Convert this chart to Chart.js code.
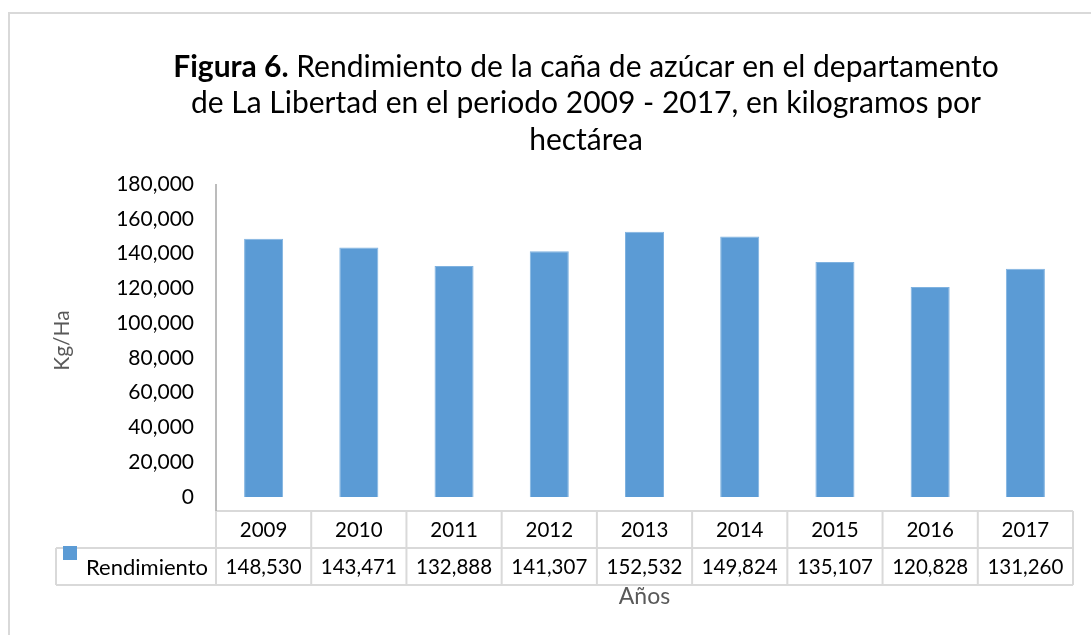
<!DOCTYPE html>
<html lang="es">
<head>
    <meta charset="UTF-8">
    <title>Figura 6 - Rendimiento de la caña de azúcar</title>
    <script src="https://cdn.jsdelivr.net/npm/chart.js"></script>
    <style>
        body { margin: 0; background: #fff; }
        canvas { display: block; }
    </style>
</head>
<body>
    <canvas id="chart" width="1091" height="635"></canvas>

    <script>
        // --- Data ---
        const years = ['2009', '2010', '2011', '2012', '2013', '2014', '2015', '2016', '2017'];
        const rendimiento = [148530, 143471, 132888, 141307, 152532, 149824, 135107, 120828, 131260];
        const seriesName = 'Rendimiento';
        const titleBold = 'Figura 6.';
        const titleLines = [
            ' Rendimiento de la caña de azúcar en el departamento',
            'de La Libertad en el periodo 2009 - 2017, en kilogramos por',
            'hectárea'
        ];

        const FONT = 'Lato, "Open Sans", sans-serif';
        const fmt = v => v.toLocaleString('en-US');

        // frame, title and data table below the x axis
        const tablePlugin = {
            id: 'tablePlugin',
            beforeDraw(chart) {
                const ctx = chart.ctx;
                ctx.save();
                ctx.strokeStyle = '#d9d9d9';
                ctx.lineWidth = 2;
                ctx.strokeRect(9, 13, 1200, 700);
                ctx.restore();
            },
            afterDraw(chart) {
                const ctx = chart.ctx;
                const x = chart.scales.x;
                const area = chart.chartArea;
                ctx.save();

                // title (first line mixes bold and regular)
                const cx = 586;
                const lineY = [67, 103, 140];
                ctx.fillStyle = '#000';
                ctx.textBaseline = 'middle';
                ctx.font = 'bold 30px ' + FONT;
                const wb = ctx.measureText(titleBold).width;
                ctx.font = '30px ' + FONT;
                const w1 = ctx.measureText(titleLines[0]).width;
                let sx = cx - (wb + w1) / 2;
                ctx.textAlign = 'left';
                ctx.font = 'bold 30px ' + FONT;
                ctx.fillText(titleBold, sx, lineY[0]);
                ctx.font = '30px ' + FONT;
                ctx.fillText(titleLines[0], sx + wb, lineY[0]);
                ctx.textAlign = 'center';
                ctx.fillText(titleLines[1], cx, lineY[1]);
                ctx.fillText(titleLines[2], cx, lineY[2]);

                // table geometry
                const colW = (area.right - area.left) / years.length;
                const top = 511, mid = 548, bot = 585, legLeft = 56;

                ctx.strokeStyle = '#d9d9d9';
                ctx.lineWidth = 2;
                ctx.beginPath();
                ctx.moveTo(area.left, top); ctx.lineTo(area.right, top);
                ctx.moveTo(legLeft, mid); ctx.lineTo(area.right, mid);
                ctx.moveTo(legLeft, bot); ctx.lineTo(area.right, bot);
                ctx.moveTo(legLeft, mid); ctx.lineTo(legLeft, bot);
                for (let i = 0; i <= years.length; i++) {
                    const lx = area.left + i * colW;
                    ctx.moveTo(lx, top); ctx.lineTo(lx, bot);
                }
                ctx.stroke();

                // y axis line down to the table
                ctx.strokeStyle = '#a6a6a6';
                ctx.lineWidth = 1.5;
                ctx.beginPath();
                ctx.moveTo(area.left, area.top);
                ctx.lineTo(area.left, top);
                ctx.stroke();

                // texts
                ctx.fillStyle = '#000';
                ctx.font = '20.5px ' + FONT;
                ctx.textAlign = 'center';
                years.forEach((yr, i) => {
                    const px = x.getPixelForValue(i);
                    ctx.fillText(yr, px, (top + mid) / 2 + 1);
                    ctx.fillText(fmt(rendimiento[i]), px, (mid + bot) / 2 + 1);
                });

                // legend key
                ctx.fillStyle = '#5b9bd5';
                ctx.fillRect(63, 546, 14, 14);
                ctx.fillStyle = '#000';
                ctx.textAlign = 'right';
                ctx.font = '22px ' + FONT;
                ctx.fillText(seriesName, 208, (mid + bot) / 2 + 1);

                ctx.restore();
            }
        };

        const config = {
            type: 'bar',
            data: {
                labels: years,
                datasets: [{
                    label: seriesName,
                    data: rendimiento,
                    backgroundColor: '#5b9bd5',
                    borderColor: '#7fb2e0',
                    borderWidth: 1,
                    categoryPercentage: 1.0,
                    barPercentage: 0.41
                }]
            },
            options: {
                responsive: false,
                animation: false,
                events: [],
                layout: { padding: { top: 184, right: 18, left: 0, bottom: 0 } },
                plugins: {
                    legend: { display: false },
                    tooltip: { enabled: false },
                    title: { display: false }
                },
                scales: {
                    x: {
                        grid: { display: false },
                        border: { display: false },
                        ticks: { display: false },
                        title: {
                            display: true,
                            text: 'Años',
                            color: '#595959',
                            font: { family: FONT, size: 23 },
                            padding: { top: 0, bottom: 25 }
                        },
                        afterFit: s => { s.height = 138; }
                    },
                    y: {
                        min: 0,
                        max: 180000,
                        grid: { display: false, drawTicks: false },
                        border: { display: false },
                        ticks: {
                            stepSize: 20000,
                            color: '#000',
                            padding: 22,
                            font: { family: FONT, size: 21 },
                            callback: v => fmt(v)
                        },
                        title: {
                            display: true,
                            text: 'Kg/Ha',
                            color: '#595959',
                            font: { family: FONT, size: 21 },
                            padding: { top: 50, bottom: 0 }
                        },
                        afterFit: s => { s.width = 216; }
                    }
                }
            },
            plugins: [tablePlugin]
        };

        new Chart(document.getElementById('chart').getContext('2d'), config);
    </script>
</body>
</html>
